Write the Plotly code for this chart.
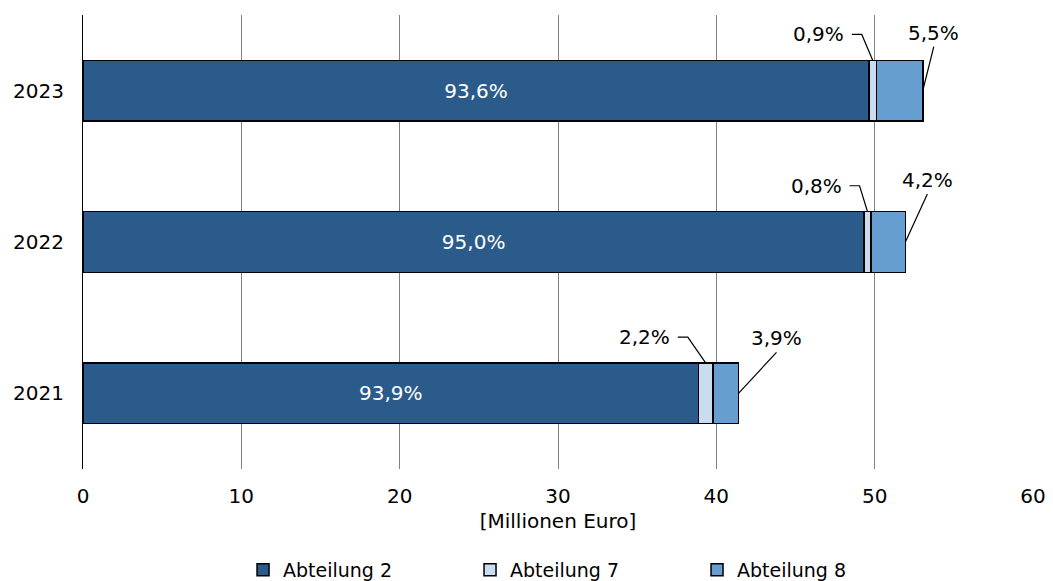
import plotly.graph_objects as go

years = ["2021", "2022", "2023"]
abt2 = [38.88, 49.34, 49.64]
abt7 = [0.91, 0.42, 0.48]
abt8 = [1.61, 2.18, 2.92]
pct2 = [93.9, 95.0, 93.6]
pct7 = [2.2, 0.8, 0.9]
pct8 = [3.9, 4.2, 5.5]
x_ticks = [0, 10, 20, 30, 40, 50, 60]

C2, C7, C8 = "#2b5b8a", "#cadcef", "#679ed2"
FONT = "DejaVu Sans"

W, H = 1053, 581
ML, MR, MT, MB = 83, 20, 15, 112
PW = W - ML - MR
PH = H - MT - MB
XMAX = 60
PXX = PW / XMAX          # pixels per x unit
PXY = PH / 3.0           # pixels per category
BAR_W = 0.4

def fmt(v):
    return f"{v:.1f}%".replace(".", ",")

ypos = list(range(len(years)))

fig = go.Figure()
fig.add_trace(go.Bar(y=ypos, x=abt2, orientation="h", name="Abteilung 2",
                     marker=dict(color=C2, line=dict(color="black", width=1.5)),
                     width=BAR_W, text=[fmt(p) for p in pct2], textposition="inside",
                     insidetextanchor="middle",
                     textfont=dict(color="white", size=20, family=FONT)))
fig.add_trace(go.Bar(y=ypos, x=abt7, orientation="h", name="Abteilung 7",
                     marker=dict(color=C7, line=dict(color="black", width=1.5)),
                     width=BAR_W, textposition="none"))
fig.add_trace(go.Bar(y=ypos, x=abt8, orientation="h", name="Abteilung 8",
                     marker=dict(color=C8, line=dict(color="black", width=1.5)),
                     width=BAR_W, textposition="none"))

# leader-line styling (pixel offsets)
diag7_dx = [-18, -8, -11]
diag7_dy = 26
hor7 = 10
lead8_dx = [38, 22, 11]
lead8_dy = [41, 48, 44]

shapes = []
annotations = []
for i in ypos:
    # Abteilung 7 label
    x0 = abt2[i] + abt7[i] / 2
    y0 = i + BAR_W / 2
    x1 = x0 + diag7_dx[i] / PXX
    y1 = y0 + diag7_dy / PXY
    x2 = x1 - hor7 / PXX
    shapes.append(dict(type="path", xref="x", yref="y",
                       path=f"M{x0},{y0} L{x1},{y1} L{x2},{y1}",
                       line=dict(color="black", width=1.2)))
    annotations.append(dict(x=x2, y=y1, xref="x", yref="y", text=fmt(pct7[i]),
                            showarrow=False, xanchor="right", yanchor="middle",
                            xshift=-6, font=dict(size=20, family=FONT, color="black")))
    # Abteilung 8 label
    ex = abt2[i] + abt7[i] + abt8[i]
    ey = i
    tx = ex + lead8_dx[i] / PXX
    ty = ey + lead8_dy[i] / PXY
    shapes.append(dict(type="line", xref="x", yref="y", x0=ex, y0=ey, x1=tx, y1=ty,
                       line=dict(color="black", width=1.2)))
    annotations.append(dict(x=tx, y=ty, xref="x", yref="y", text=fmt(pct8[i]),
                            showarrow=False, xanchor="center", yanchor="bottom",
                            yshift=0, font=dict(size=20, family=FONT, color="black")))

fig.update_layout(
    width=W, height=H,
    margin=dict(l=ML, r=MR, t=MT, b=MB, autoexpand=False),
    barmode="stack",
    plot_bgcolor="white", paper_bgcolor="white",
    font=dict(family=FONT, size=20, color="black"),
    shapes=shapes, annotations=annotations,
    showlegend=True,
    legend=dict(orientation="h", xref="container", yref="container",
                x=0.2308, xanchor="left", y=0.0189, yanchor="middle",
                entrywidth=182, font=dict(size=19, family=FONT),
                traceorder="normal"),
    xaxis=dict(range=[0, XMAX], tickvals=x_ticks, showgrid=True, gridcolor="#808080",
               gridwidth=1, zeroline=False, showline=False, ticks="", automargin=False,
               ticklabelstandoff=13, tickfont=dict(size=20),
               title=dict(text="[Millionen Euro]", font=dict(size=20), standoff=6)),
    yaxis=dict(range=[-0.5, 2.5], tickvals=ypos, ticktext=years, showgrid=False,
               zeroline=False, showline=True, linecolor="black", linewidth=1,
               automargin=False,
               ticks="", ticklabelstandoff=14, tickfont=dict(size=20)),
)

fig.write_html("out.html", config={"displayModeBar": False},
               post_script="document.body.style.margin='0';")
